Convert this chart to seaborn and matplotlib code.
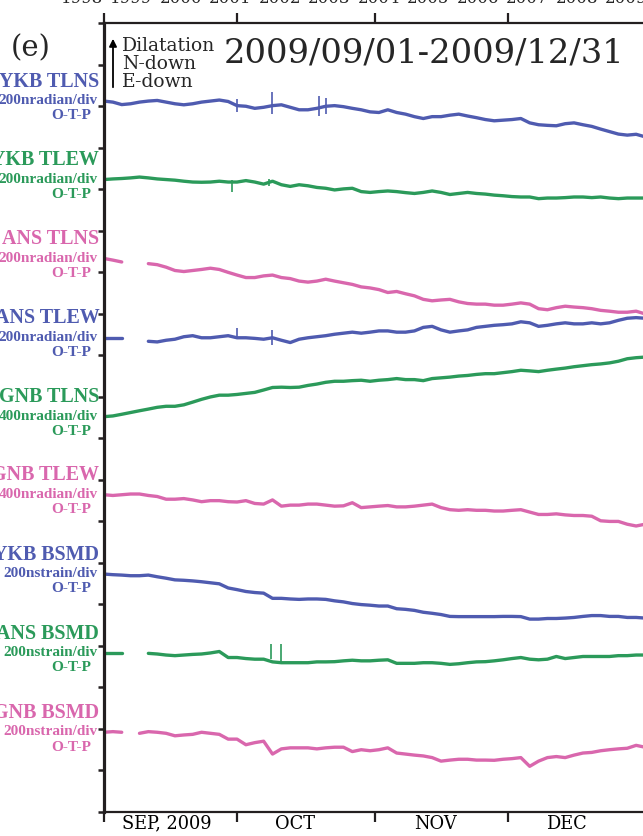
import numpy as np
import pandas as pd
import seaborn as sns
import matplotlib.pyplot as plt

nan = np.nan

# days since 2009/09/01, one reading every 2 days
days = np.arange(0, 123, 2)

# values in nradian (tilt) or nstrain (BSMD), relative to the first reading
ykb_tlns = [0, -5, -17, -13, -5, 0, 3, -5, -13, -18,
            -13, -5, 0, 5, -2, -22, -25, -35, -30, -22,
            -18, -30, -42, -42, -35, -25, -22, -27, -35, -42,
            -52, -55, -42, -55, -63, -75, -84, -75, -75, -68,
            -63, -72, -80, -89, -95, -92, -89, -84, -105, -114,
            -117, -119, -109, -105, -114, -122, -135, -147, -159, -164,
            -160, -172]
ykb_tlew = [0, 3, 5, 8, 12, 8, 3, 0, -3, -8,
            -12, -13, -12, -8, -12, -12, -5, -12, -22, -8,
            -25, -33, -25, -30, -38, -42, -50, -45, -42, -58,
            -62, -58, -55, -58, -63, -67, -62, -55, -62, -72,
            -67, -62, -67, -70, -75, -78, -82, -84, -84, -92,
            -89, -89, -87, -84, -84, -87, -84, -89, -92, -89,
            -89, -89]
ans_tlns = [0, -8, -17, nan, nan, -25, -30, -42, -58, -63,
            -58, -53, -47, -53, -67, -80, -92, -92, -84, -80,
            -92, -97, -109, -114, -109, -100, -109, -117, -125, -137,
            -142, -150, -164, -159, -170, -180, -197, -204, -200, -197,
            -209, -217, -220, -220, -225, -225, -220, -214, -220, -242,
            -247, -237, -230, -234, -237, -242, -250, -254, -259, -259,
            -254, -267]
ans_tlew = [0, 0, 0, nan, nan, -17, -20, -12, -7, 5,
            10, 0, 0, 5, 10, 0, 0, -3, -7, 0,
            -12, -23, -7, 0, 5, 10, 17, 22, 27, 22,
            27, 33, 33, 27, 27, 33, 50, 55, 38, 27,
            33, 38, 50, 55, 60, 63, 67, 77, 72, 55,
            60, 67, 72, 67, 67, 72, 67, 72, 84, 94,
            97, 94]
gnb_tlns = [0, 7, 23, 40, 57, 73, 90, 100, 100, 114,
            140, 167, 190, 207, 207, 214, 224, 234, 257, 281,
            284, 281, 284, 301, 314, 331, 341, 341, 347, 351,
            341, 351, 357, 367, 357, 357, 347, 367, 374, 381,
            391, 397, 407, 414, 414, 424, 434, 447, 441, 434,
            447, 458, 468, 481, 491, 501, 508, 518, 534, 558,
            568, 574]
gnb_tlew = [0, -7, 0, 7, 7, -7, -17, -43, -43, -37,
            -50, -67, -57, -57, -67, -70, -57, -84, -90, -50,
            -110, -100, -100, -90, -90, -100, -110, -107, -77, -124,
            -117, -110, -104, -117, -117, -110, -100, -90, -124, -144,
            -150, -144, -150, -150, -157, -157, -150, -144, -167, -190,
            -190, -184, -194, -200, -200, -207, -251, -257, -257, -284,
            -301, -284]
ykb_bsmd = [0, -3, -5, -8, -8, -5, -13, -20, -28, -30,
            -33, -37, -42, -47, -67, -75, -84, -89, -92, -117,
            -117, -120, -122, -120, -120, -122, -129, -134, -142, -147,
            -150, -154, -154, -167, -170, -175, -184, -189, -195, -204,
            -205, -205, -205, -205, -205, -204, -204, -205, -217, -217,
            -214, -214, -212, -209, -204, -200, -200, -204, -204, -209,
            -209, -212]
ans_bsmd = [0, 0, 0, nan, nan, -2, -5, -10, -13, -10,
            -7, -5, 0, 7, -22, -22, -27, -30, -30, -43,
            -47, -47, -47, -47, -43, -43, -42, -38, -35, -38,
            -38, -35, -33, -50, -50, -50, -47, -47, -50, -55,
            -52, -47, -43, -42, -38, -33, -27, -22, -30, -33,
            -30, -17, -27, -22, -17, -17, -17, -17, -13, -13,
            -10, -10]
gnb_bsmd = [0, 3, 0, nan, -5, 3, 0, -5, -17, -13,
            -10, 0, -5, -10, -33, -33, -60, -50, -43, -105,
            -80, -75, -75, -75, -80, -75, -72, -72, -93, -84,
            -89, -84, -75, -100, -105, -110, -114, -122, -139, -134,
            -130, -130, -134, -134, -135, -130, -127, -122, -164, -139,
            -122, -117, -122, -110, -100, -97, -89, -84, -80, -77,
            -63, -72]

series = [ykb_tlns, ykb_tlew, ans_tlns, ans_tlew, gnb_tlns,
          gnb_tlew, ykb_bsmd, ans_bsmd, gnb_bsmd]
names = ["YKB TLNS", "YKB TLEW", "ANS TLNS", "ANS TLEW", "GNB TLNS",
         "GNB TLEW", "YKB BSMD", "ANS BSMD", "GNB BSMD"]
units = ["200nradian/div", "200nradian/div", "200nradian/div", "200nradian/div",
         "400nradian/div", "400nradian/div", "200nstrain/div", "200nstrain/div",
         "200nstrain/div"]
per_div = [200, 200, 200, 200, 400, 400, 200, 200, 200]
offsets = [17.12, 15.23, 13.33, 11.42, 9.52, 7.64, 5.73, 3.83, 1.92]
blue, green, pink = "#4f5bb0", "#2b9a5a", "#d967ad"
colors = [blue, green, pink] * 3

# short spikes (trace index, day, low, high)
spike_trace = [0, 0, 0, 0, 1, 1, 3, 3, 7, 7]
spike_day = [30.0, 37.9, 48.5, 50.0, 28.9, 37.2, 30.0, 37.9, 37.6, 40.0]
spike_lo = [-55, -63, -70, -60, -62, -30, -5, -37, -30, -43]
spike_hi = [12, 42, 25, 15, 0, 5, 47, 38, 45, 45]

month_labels = ["SEP, 2009", "OCT", "NOV", "DEC"]
month_starts = [0, 30, 61, 91, 122]
label_pos = [14.2, 43.1, 74.8, 104.3]
top_years = ["1998", "1999", "2000", "2001", "2002", "2003", "2004", "2005",
             "2006", "2007", "2008", "2009"]

frames = []
for i, vals in enumerate(series):
    v = np.array(vals, dtype=float)
    d = pd.DataFrame({"day": days, "y": offsets[i] + v / per_div[i],
                      "seg": np.cumsum(np.isnan(v)), "trace": names[i]})
    frames.append(d.dropna())
df = pd.concat(frames, ignore_index=True)

sns.set_theme(style="ticks")
plt.rcParams['font.family'] = ['DejaVu Serif']

fig = plt.figure(figsize=(6.43, 8.36), dpi=100)
ax = fig.add_axes([104 / 643, 1 - 812 / 836, 541 / 643, 789 / 836])

sns.lineplot(data=df, x="day", y="y", hue="trace", units="seg", estimator=None,
             palette=dict(zip(names, colors)), hue_order=names, linewidth=2.4,
             legend=False, ax=ax)
for t, dd, lo, hi in zip(spike_trace, spike_day, spike_lo, spike_hi):
    ax.vlines(dd, offsets[t] + lo / per_div[t], offsets[t] + hi / per_div[t],
              color=colors[t], lw=1.2)

ax.set_xlim(0, 122)
ax.set_ylim(0, 19)
ax.set_xlabel("")
ax.set_ylabel("")
ax.set_yticks(range(20))
ax.set_xticks(month_starts)
ax.set_xticks(label_pos, minor=True)
ax.set_xticklabels(month_labels, minor=True, fontsize=12.8)
ax.tick_params(axis='y', direction='out', length=4.5, width=1.8, labelleft=False,
               color='#231f20')
ax.tick_params(axis='x', which='major', direction='out', length=7.5, width=1.6,
               top=True, labelbottom=False, labeltop=False, color='#231f20')
ax.tick_params(axis='x', which='minor', length=0, pad=2, top=False,
               labelcolor='black')
ax.spines['left'].set_linewidth(2.3)
ax.spines['top'].set_linewidth(1.6)
ax.spines['bottom'].set_linewidth(1.6)
for s in ax.spines.values():
    s.set_color('#231f20')
    s.set_visible(True)

# station labels at the left
for i, nm in enumerate(names):
    ax.text(-1.06, offsets[i] + 0.345, nm, ha='right', va='baseline', color=colors[i],
            fontsize=14.4, fontweight='bold', family='Liberation Serif', clip_on=False)
    ax.text(-1.42, offsets[i] - 0.077, units[i], ha='right', va='baseline',
            color=colors[i], fontsize=11, fontweight='bold', family='Liberation Serif',
            clip_on=False)
    ax.text(-3.0, offsets[i] - 0.443, "O-T-P", ha='right', va='baseline',
            color=colors[i], fontsize=11, fontweight='bold', family='Liberation Serif',
            clip_on=False)

# legend arrow and directions
ax.annotate("", xy=(9 / 541, (812 - 36) / 789), xytext=(9 / 541, (812 - 90) / 789),
            xycoords='axes fraction',
            arrowprops=dict(arrowstyle='-|>', lw=1.3, color='black', mutation_scale=11))
for txt, yb in zip(["Dilatation", "N-down", "E-down"], [50.7, 69.3, 86.7]):
    fig.text(122 / 643, 1 - yb / 836, txt, ha='left', va='baseline', fontsize=13.5)

fig.text(224 / 643, 1 - 62.5 / 836, "2009/09/01-2009/12/31", ha='left', va='baseline',
         fontsize=24.3)
fig.text(31 / 643, 1 - 56 / 836, "(e)", ha='center', va='baseline', fontsize=21)

# year labels of the panel above, cut by the top edge
for k, yr in enumerate(top_years):
    fig.text((82 + 49.5 * k) / 643, 1 - 3 / 836, yr, ha='center', va='baseline',
             fontsize=12)

fig.savefig("out.png", dpi=100)
